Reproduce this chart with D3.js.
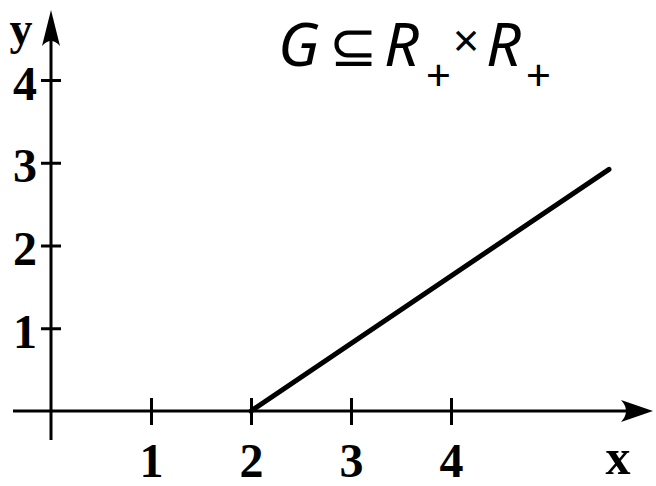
<!DOCTYPE html>
<html>
<head>
<meta charset="utf-8">
<script src="https://cdn.jsdelivr.net/npm/d3@7"></script>
<style>
  body { margin: 0; background: #fff; }
  svg { display: block; }
  .tick text { font-family: "Liberation Serif", "DejaVu Serif", serif; font-weight: bold; }
</style>
</head>
<body>
<div id="chart"></div>
<script>
// data
var xTicks = [1, 2, 3, 4];
var yTicks = [1, 2, 3, 4];
var lineX = [2, 5.58];
var lineY = [0, 2.92];

var width = 656, height = 486;
var svg = d3.select("#chart").append("svg").attr("width", width).attr("height", height);

var x = d3.scaleLinear().domain([0, 4]).range([51, 451]);
var y = d3.scaleLinear().domain([0, 4]).range([411, 80]);

var ink = "#000";

// x axis (ticks cross the line)
var gx = svg.append("g").attr("transform", "translate(0," + y(0) + ")")
  .call(d3.axisBottom(x).tickValues(xTicks).tickSize(0).tickPadding(32).tickFormat(d3.format("d")));
gx.select(".domain").remove();
gx.selectAll(".tick line").attr("y1", -13).attr("y2", 14).attr("stroke", ink).attr("stroke-width", 3);
gx.selectAll(".tick text").attr("font-size", 48).attr("fill", ink).attr("dy", "0.71em");

// y axis
var gy = svg.append("g").attr("transform", "translate(" + x(0) + ",0)")
  .call(d3.axisLeft(y).tickValues(yTicks).tickSize(0).tickPadding(14).tickFormat(d3.format("d")));
gy.select(".domain").remove();
gy.selectAll(".tick line").attr("x1", -10).attr("x2", 10).attr("stroke", ink).attr("stroke-width", 3);
gy.selectAll(".tick text").attr("font-size", 48).attr("fill", ink).attr("dy", "0.4em");

// axis lines with arrows
svg.append("line").attr("x1", 13).attr("x2", 640).attr("y1", y(0)).attr("y2", y(0))
  .attr("stroke", ink).attr("stroke-width", 3);
svg.append("line").attr("x1", x(0)).attr("x2", x(0)).attr("y1", 440).attr("y2", 22)
  .attr("stroke", ink).attr("stroke-width", 3);

var ax = 653, ay = y(0);
svg.append("path")
  .attr("d", "M" + ax + "," + ay + " L" + (ax - 32) + "," + (ay - 11) + " Q" + (ax - 22) + "," + ay + " " + (ax - 32) + "," + (ay + 11) + " Z")
  .attr("fill", ink);
var bx = x(0), by = 10;
svg.append("path")
  .attr("d", "M" + bx + "," + by + " L" + (bx - 9) + "," + (by + 36) + " Q" + bx + "," + (by + 26) + " " + (bx + 9) + "," + (by + 36) + " Z")
  .attr("fill", ink);

// axis names
svg.append("text").attr("x", 21).attr("y", 44).attr("text-anchor", "middle")
  .attr("font-family", "Liberation Serif, serif").attr("font-weight", "bold").attr("font-size", 46)
  .text("y");
svg.append("text").attr("x", 618).attr("y", 474).attr("text-anchor", "middle")
  .attr("font-family", "Liberation Serif, serif").attr("font-weight", "bold").attr("font-size", 50)
  .text("x");

// the graph
var pts = d3.zip(lineX, lineY);
svg.append("path").datum(pts)
  .attr("d", d3.line().x(function (d) { return x(d[0]); }).y(function (d) { return y(d[1]); }))
  .attr("fill", "none").attr("stroke", ink).attr("stroke-width", 5).attr("stroke-linecap", "round");

// set notation
var t = svg.append("text").attr("y", 66)
  .attr("font-family", "Noto Sans, sans-serif").attr("font-style", "italic").attr("font-size", 61).attr("fill", ink);
t.append("tspan").attr("x", 278).text("G");
t.append("tspan").attr("x", 329).attr("font-style", "normal").attr("font-size", 58).text("\u2286");
t.append("tspan").attr("x", 384).text("R");
t.append("tspan").attr("x", 425).attr("y", 91).attr("font-size", 44).text("+");
t.append("tspan").attr("x", 452).attr("y", 57).attr("font-size", 46).text("\u00d7");
t.append("tspan").attr("x", 486).attr("y", 66).text("R");
t.append("tspan").attr("x", 525).attr("y", 91).attr("font-size", 44).text("+");
</script>
</body>
</html>
